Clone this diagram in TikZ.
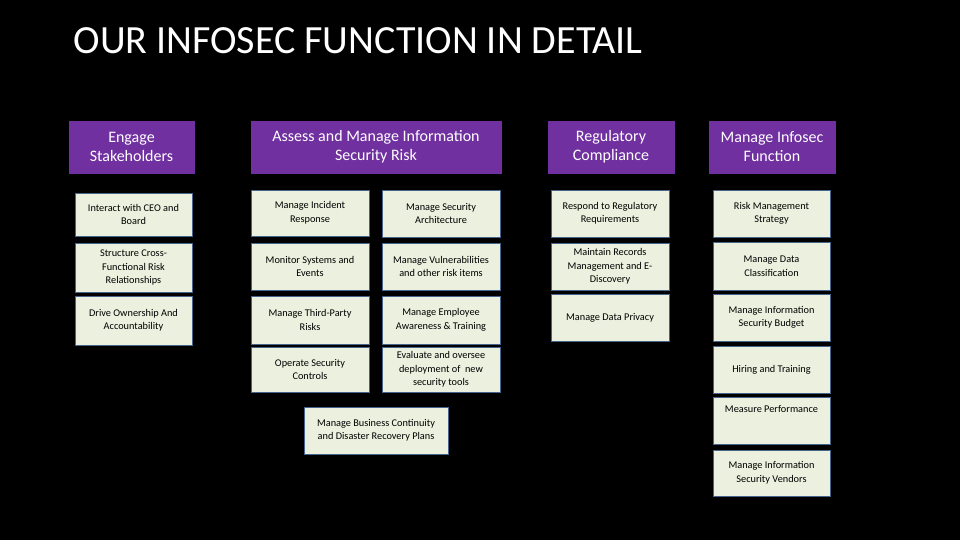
\documentclass[tikz,border=0pt]{standalone}
\usepackage{fontspec}
\setmainfont{Carlito}
\newcommand\bx[7]{\node[#1,minimum width={(#4-#2)*1pt},minimum height={(#5-#3)*1pt}] (#7) at ({(#2+#4)/2},{(#3+#5)/2}) {#6};}
\begin{document}
\begin{tikzpicture}[x=1pt,y=-1pt,
  hdr/.style={fill={rgb,255:red,112;green,48;blue,160},draw={rgb,255:red,112;green,48;blue,160},text=white,font=\fontsize{16}{19}\selectfont,align=center,inner sep=1pt},
  box/.style={fill={rgb,255:red,235;green,241;blue,222},draw={rgb,255:red,70;green,100;blue,140},line width=0.6pt,text=black,font=\fontsize{10.3}{13.5}\selectfont,align=center,inner sep=1pt}]
\fill[black] (0,0) rectangle (960,540);
\useasboundingbox (0,0) rectangle (960,540);
\node[anchor=west,text=white,font=\fontsize{40}{44}\selectfont] (title) at (70,41) {OUR INFOSEC FUNCTION IN DETAIL};
\bx{hdr}{69}{121}{194}{173}{Engage\\Stakeholders}{h1}
\bx{hdr}{251}{121}{501}{173}{Assess and Manage Information\\Security Risk}{h2}
\bx{hdr}{548}{121}{674}{173}{Regulatory\\Compliance}{h3}
\bx{hdr}{709}{121}{835}{173}{Manage Infosec\\Function}{h4}
\bx{box}{75}{193}{192}{236}{Interact with CEO and\\Board}{a1}
\bx{box}{75}{243}{192}{292}{Structure Cross-\\Functional Risk\\Relationships}{a2}
\bx{box}{75}{296}{192}{345}{Drive Ownership And\\Accountability}{a3}
\bx{box}{251}{190}{369}{236}{Manage Incident\\Response}{b1}
\bx{box}{251}{243}{369}{290}{Monitor Systems and\\Events}{b2}
\bx{box}{251}{296}{369}{344}{Manage Third-Party\\Risks}{b3}
\bx{box}{251}{347}{369}{392}{Operate Security\\Controls}{b4}
\bx{box}{382}{190}{500}{237}{Manage Security\\Architecture}{c1}
\bx{box}{382}{243}{500}{290}{Manage Vulnerabilities\\and other risk items}{c2}
\bx{box}{382}{296}{500}{344}{Manage Employee\\Awareness \& Training}{c3}
\bx{box}{382}{347}{500}{392}{Evaluate and oversee\\deployment of~ new\\security tools}{c4}
\bx{box}{304}{407}{448}{454}{Manage Business Continuity\\and Disaster Recovery Plans}{bc}
\bx{box}{551}{190}{669}{237}{Respond to Regulatory\\Requirements}{d1}
\bx{box}{551}{243}{669}{290}{Maintain Records\\Management and E-\\Discovery}{d2}
\bx{box}{551}{294}{669}{341}{Manage Data Privacy}{d3}
\bx{box}{713}{190}{830}{237}{Risk Management\\Strategy}{e1}
\bx{box}{713}{242}{830}{290}{Manage Data\\Classification}{e2}
\bx{box}{713}{294}{830}{341}{Manage Information\\Security Budget}{e3}
\bx{box}{713}{346}{830}{393}{Hiring and Training}{e4}
\node[box,minimum width=117pt,minimum height=47pt,text depth=24pt] (e5) at (771.5,420.5) {Measure Performance};
\bx{box}{713}{450}{830}{496}{Manage Information\\Security Vendors}{e6}
\end{tikzpicture}
\end{document}
